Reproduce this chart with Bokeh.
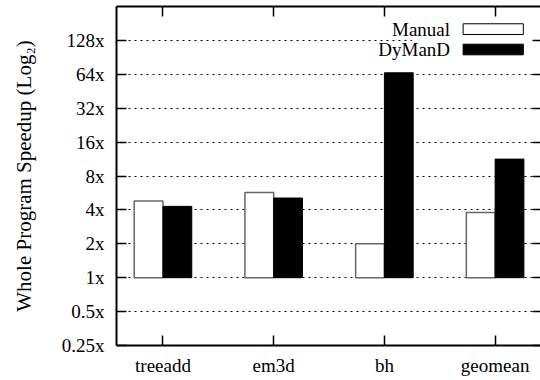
from bokeh.plotting import figure
from bokeh.models import (ColumnDataSource, Range1d, FixedTicker, CustomJSTickFormatter,
                          LinearAxis, LogAxis, Label, BoxAnnotation)
from bokeh.transform import dodge
from bokeh.embed import file_html
from bokeh.resources import INLINE

categories = ["treeadd", "em3d", "bh", "geomean"]
manual = [4.8, 5.7, 2.0, 3.8]
dymand = [4.3, 5.1, 66.0, 11.3]
y_ticks = [0.25, 0.5, 1, 2, 4, 8, 16, 32, 64, 128]
y_tick_labels = ["0.25x", "0.5x", "1x", "2x", "4x", "8x", "16x", "32x", "64x", "128x"]
series_names = ["Manual", "DyManD"]
baseline = 1

FONT = "'Liberation Serif', serif"
FS = "19px"
xs = list(range(len(categories)))
src = ColumnDataSource(dict(x=xs, manual=manual, dymand=dymand))

p = figure(width=540, height=380, x_range=Range1d(-0.42, 3.41), y_range=Range1d(0.25, 256),
           y_axis_type="log", output_backend="svg", toolbar_location=None,
           min_border_left=116, min_border_top=6, min_border_right=0, min_border_bottom=35)
p.title = None
p.outline_line_color = None
p.background_fill_color = "white"
p.border_fill_color = "white"

# grid
p.xgrid.visible = False
p.ygrid.ticker = FixedTicker(ticks=y_ticks)
p.ygrid.grid_line_color = "black"
p.ygrid.grid_line_dash = "2 4"
p.ygrid.grid_line_width = 1

# bars
BW = 0.26
p.vbar(x=dodge("x", -BW / 2, range=p.x_range), top="manual", bottom=baseline, width=BW, source=src,
       fill_color="white", line_color="#666666", line_width=1.5)
p.vbar(x=dodge("x", BW / 2, range=p.x_range), top="dymand", bottom=baseline, width=BW, source=src,
       fill_color="black", line_color="black", line_width=1)

def style_axis(ax):
    ax.axis_line_width = 2
    ax.axis_line_color = "black"
    ax.major_tick_line_width = 1.5
    ax.major_tick_line_color = "black"
    ax.major_tick_in = 10
    ax.major_tick_out = 0
    ax.minor_tick_line_color = None
    ax.major_label_text_font = FONT
    ax.major_label_text_font_size = FS
    ax.major_label_text_color = "black"

xfmt = CustomJSTickFormatter(args=dict(cats=categories), code="return cats[Math.round(tick)] || '';")
yfmt = CustomJSTickFormatter(args=dict(tvals=y_ticks, tlabels=y_tick_labels), code="""
const i = tvals.findIndex(t => Math.abs(t - tick) < 1e-9 * Math.max(1, t));
return i >= 0 ? tlabels[i] : '';
""")
blank = CustomJSTickFormatter(code="return '';")
blank2 = CustomJSTickFormatter(code="return '';")

xa = p.xaxis[0]
style_axis(xa)
xa.ticker = FixedTicker(ticks=xs)
xa.formatter = xfmt
xa.major_label_standoff = 9

ya = p.yaxis[0]
style_axis(ya)
ya.ticker = FixedTicker(ticks=y_ticks)
ya.formatter = yfmt
ya.major_label_standoff = 12
ya.axis_label = "Whole Program Speedup (Log\u2082)"
ya.axis_label_text_font = FONT
ya.axis_label_text_font_size = "21px"
ya.axis_label_text_font_style = "normal"
ya.axis_label_text_color = "black"
ya.axis_label_standoff = 23

top = LinearAxis(ticker=FixedTicker(ticks=xs), formatter=blank)
style_axis(top)
top.major_label_text_font_size = "1px"
top.major_label_standoff = 0
p.add_layout(top, "above")

right = LogAxis(ticker=FixedTicker(ticks=y_ticks), formatter=blank2)
style_axis(right)
right.axis_line_color = None
right.major_tick_in = 8
right.major_label_text_font_size = "1px"
right.major_label_standoff = 0
p.add_layout(right, "right")

# legend (text left, swatch right), with opaque background
p.add_layout(BoxAnnotation(left=2.248, right=3.336, bottom=84.9, top=200.3, fill_color="white",
                           fill_alpha=1, line_color=None))
p.add_layout(Label(x=2.593, y=160.0, text=series_names[0], text_align="right", text_baseline="middle",
                   text_font=FONT, text_font_size=FS, text_color="black"))
p.add_layout(Label(x=2.593, y=106.3, text=series_names[1], text_align="right", text_baseline="middle",
                   text_font=FONT, text_font_size=FS, text_color="black"))
p.add_layout(BoxAnnotation(left=2.711, right=3.255, bottom=144.4, top=179.8, fill_color="white",
                           fill_alpha=1, line_color="black", line_width=1, line_alpha=1))
p.add_layout(BoxAnnotation(left=2.711, right=3.255, bottom=95.3, top=118.5, fill_color="black",
                           fill_alpha=1, line_color="black", line_width=1, line_alpha=1))

open("out.html", "w").write(file_html(p, INLINE))
